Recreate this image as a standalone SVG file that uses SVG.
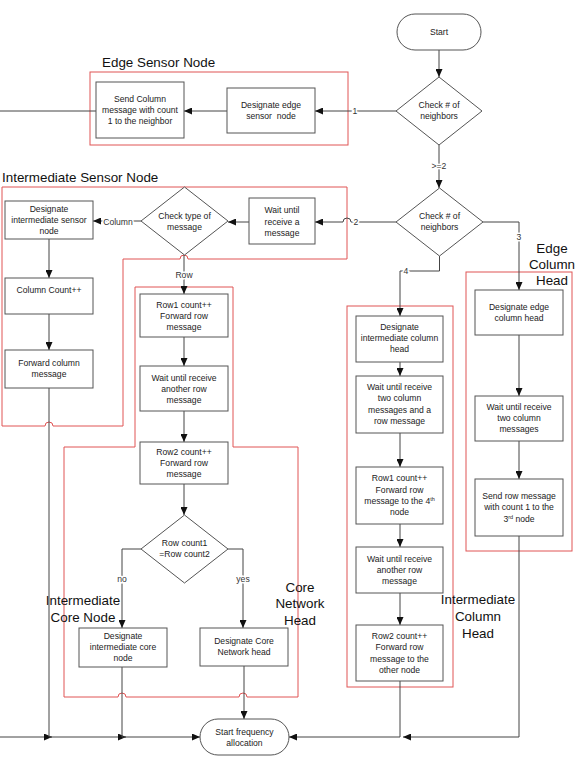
<svg xmlns="http://www.w3.org/2000/svg" width="578" height="763" viewBox="0 0 578 763">
<style>
.bx{fill:#fff;stroke:#555;stroke-width:1}
.rb{fill:none;stroke:#e05555;stroke-width:1}
.t{font-family:"Liberation Sans",Arial,sans-serif;font-size:8.6px;fill:#222;text-anchor:middle}
.lb{font-family:"Liberation Sans",Arial,sans-serif;font-size:8.6px;fill:#333;text-anchor:middle;stroke:#fff;stroke-width:3;paint-order:stroke}
.big{font-family:"Liberation Sans",Arial,sans-serif;font-size:13.4px;fill:#111}
.c{fill:none;stroke:#444;stroke-width:1}
</style>
<defs>
<marker id="ar" markerUnits="userSpaceOnUse" markerWidth="9" markerHeight="7" refX="8" refY="3.5" orient="auto">
<path d="M0,0 L8,3.5 L0,7 z" fill="#111"/>
</marker>
</defs>
<rect width="578" height="763" fill="#fff"/>

<g id="groups">
<rect class="rb" x="90" y="72" width="258" height="73"/>
<path class="rb" d="M2,187 H347 V259 H188 a4,4 0 0 0 -8,0 H123 V426 H53 a4,4 0 0 0 -8,0 H2 Z"/>
<path class="rb" d="M135,287 H233 V447 H298 V697 H247 a4,4 0 0 0 -8,0 H126 a4,4 0 0 0 -8,0 H64 V447 H135 Z"/>
<rect class="rb" x="347" y="306" width="106" height="381"/>
<rect class="rb" x="466" y="272" width="106" height="279"/>
<text class="big" x="102" y="67">Edge Sensor Node</text>
<text class="big" x="2" y="182">Intermediate Sensor Node</text>
<text class="big" text-anchor="middle"><tspan x="552" y="253">Edge</tspan><tspan x="552" y="269">Column</tspan><tspan x="552" y="285">Head</tspan></text>
<text class="big" text-anchor="middle"><tspan x="478" y="604">Intermediate</tspan><tspan x="478" y="621">Column</tspan><tspan x="478" y="638">Head</tspan></text>
<text class="big" text-anchor="middle"><tspan x="83" y="605">Intermediate</tspan><tspan x="83" y="622">Core Node</tspan></text>
<text class="big" text-anchor="middle"><tspan x="300" y="592">Core</tspan><tspan x="300" y="608">Network</tspan><tspan x="300" y="625">Head</tspan></text>
</g>

<g id="connectors">
<path class="c" d="M439,50 V77" marker-end="url(#ar)"/>
<path class="c" d="M396,111 H315" marker-end="url(#ar)"/>
<path class="c" d="M227,111 H184" marker-end="url(#ar)"/>
<path class="c" d="M96,111 H-3 V737 H52" marker-end="url(#ar)"/>
<path class="c" d="M439,145 V188" marker-end="url(#ar)"/>
<path class="c" d="M396,222 H351 a4,4 0 0 0 -8,0 H315" marker-end="url(#ar)"/>
<path class="c" d="M249,222 H228" marker-end="url(#ar)"/>
<path class="c" d="M141,221 H93" marker-end="url(#ar)"/>
<path class="c" d="M184,255 V294" marker-end="url(#ar)"/>
<path class="c" d="M49,239 V278" marker-end="url(#ar)"/>
<path class="c" d="M49,314 V350" marker-end="url(#ar)"/>
<path class="c" d="M49,388 V737 H126" marker-end="url(#ar)"/>
<path class="c" d="M184,337 V366" marker-end="url(#ar)"/>
<path class="c" d="M184,411 V442" marker-end="url(#ar)"/>
<path class="c" d="M184,484 V515" marker-end="url(#ar)"/>
<path class="c" d="M141,549 H122 V628" marker-end="url(#ar)"/>
<path class="c" d="M228,549 H243 V628" marker-end="url(#ar)"/>
<path class="c" d="M122,667 V737 H200" marker-end="url(#ar)"/>
<path class="c" d="M244,666 V719" marker-end="url(#ar)"/>
<path class="c" d="M483,222 H519 V290" marker-end="url(#ar)"/>
<path class="c" d="M439.5,256 V271 H400 V316" marker-end="url(#ar)"/>
<path class="c" d="M400,362 V376" marker-end="url(#ar)"/>
<path class="c" d="M400,433 V467" marker-end="url(#ar)"/>
<path class="c" d="M400,524 V547" marker-end="url(#ar)"/>
<path class="c" d="M400,593 V625" marker-end="url(#ar)"/>
<path class="c" d="M400,681 V737 H289" marker-end="url(#ar)"/>
<path class="c" d="M519,335 V396" marker-end="url(#ar)"/>
<path class="c" d="M519,441 V479" marker-end="url(#ar)"/>
<path class="c" d="M519,536 V737 H403" marker-end="url(#ar)"/>
<text class="lb" x="355" y="114">1</text>
<text class="lb" x="439" y="169">&gt;=2</text>
<text class="lb" x="356" y="225">2</text>
<text class="lb" x="118" y="225">Column</text>
<text class="lb" x="184" y="278">Row</text>
<text class="lb" x="519" y="240">3</text>
<text class="lb" x="406" y="274">4</text>
<text class="lb" x="122" y="582">no</text>
<text class="lb" x="243" y="582">yes</text>
</g>

<g id="start"><rect class="bx" x="397" y="14" width="84" height="36" rx="18"/><text class="t" x="439" y="35">Start</text></g>
<g id="check1"><path class="bx" d="M439,77 L482,111 L439,145 L396,111 Z"/><text class="t"><tspan x="439" y="108">Check # of</tspan><tspan x="439" y="119">neighbors</tspan></text></g>
<g id="designate-edge-sensor"><rect class="bx" x="227" y="88" width="88" height="45"/><text class="t" style="white-space:pre"><tspan x="271" y="108">Designate edge</tspan><tspan x="271" y="119">sensor  node</tspan></text></g>
<g id="send-column"><rect class="bx" x="96" y="82" width="88" height="56"/><text class="t"><tspan x="140" y="102">Send Column</tspan><tspan x="140" y="113">message with count</tspan><tspan x="140" y="124">1 to the neighbor</tspan></text></g>
<g id="check2"><path class="bx" d="M439.5,188 L483,222 L439.5,256 L396,222 Z"/><text class="t"><tspan x="439.5" y="219">Check # of</tspan><tspan x="439.5" y="230">neighbors</tspan></text></g>
<g id="wait-message"><rect class="bx" x="249" y="198" width="66" height="46"/><text class="t"><tspan x="282" y="213">Wait until</tspan><tspan x="282" y="224.5">receive a</tspan><tspan x="282" y="236">message</tspan></text></g>
<g id="check-type"><path class="bx" d="M184.5,187 L228,221 L184.5,255 L141,221 Z"/><text class="t"><tspan x="184.5" y="219">Check type of</tspan><tspan x="184.5" y="230">message</tspan></text></g>
<g id="designate-int-sensor"><rect class="bx" x="5" y="201" width="88" height="38"/><text class="t"><tspan x="49" y="212">Designate</tspan><tspan x="49" y="223">intermediate sensor</tspan><tspan x="49" y="234">node</tspan></text></g>
<g id="column-count"><rect class="bx" x="5" y="278" width="88" height="36"/><text class="t" x="49" y="293">Column Count++</text></g>
<g id="forward-column"><rect class="bx" x="5" y="350" width="88" height="38"/><text class="t"><tspan x="49" y="366">Forward column</tspan><tspan x="49" y="377">message</tspan></text></g>
<g id="row1"><rect class="bx" x="140" y="294" width="88" height="43"/><text class="t"><tspan x="184" y="308">Row1 count++</tspan><tspan x="184" y="319">Forward row</tspan><tspan x="184" y="330">message</tspan></text></g>
<g id="wait-row"><rect class="bx" x="140" y="366" width="88" height="45"/><text class="t"><tspan x="184" y="381">Wait until receive</tspan><tspan x="184" y="392">another row</tspan><tspan x="184" y="403">message</tspan></text></g>
<g id="row2"><rect class="bx" x="140" y="442" width="88" height="42"/><text class="t"><tspan x="184" y="455">Row2 count++</tspan><tspan x="184" y="466">Forward row</tspan><tspan x="184" y="477">message</tspan></text></g>
<g id="row-compare"><path class="bx" d="M184.5,515 L228,549 L184.5,583 L141,549 Z"/><text class="t"><tspan x="184.5" y="546">Row count1</tspan><tspan x="184.5" y="557">=Row count2</tspan></text></g>
<g id="designate-int-core"><rect class="bx" x="79" y="628" width="88" height="39"/><text class="t"><tspan x="123" y="639">Designate</tspan><tspan x="123" y="650">intermediate core</tspan><tspan x="123" y="661">node</tspan></text></g>
<g id="designate-core-head"><rect class="bx" x="200" y="628" width="88" height="38"/><text class="t"><tspan x="244" y="644">Designate Core</tspan><tspan x="244" y="655">Network head</tspan></text></g>
<g id="start-freq"><rect class="bx" x="200" y="719" width="89" height="36" rx="18"/><text class="t"><tspan x="244.5" y="735">Start frequency</tspan><tspan x="244.5" y="746">allocation</tspan></text></g>
<g id="designate-int-col"><rect class="bx" x="356" y="316" width="87" height="46"/><text class="t"><tspan x="399.5" y="330">Designate</tspan><tspan x="399.5" y="341">intermediate column</tspan><tspan x="399.5" y="352">head</tspan></text></g>
<g id="wait-two-col-row"><rect class="bx" x="356" y="376" width="87" height="57"/><text class="t"><tspan x="399.5" y="390">Wait until receive</tspan><tspan x="399.5" y="401">two column</tspan><tspan x="399.5" y="413">messages and a</tspan><tspan x="399.5" y="424">row message</tspan></text></g>
<g id="row1-4th"><rect class="bx" x="356" y="467" width="87" height="57"/><text class="t"><tspan x="399.5" y="481">Row1 count++</tspan><tspan x="399.5" y="493">Forward row</tspan><tspan x="399.5" y="504">message to the 4<tspan font-size="5.5" dy="-3">th</tspan></tspan><tspan x="399.5" y="515">node</tspan></text></g>
<g id="wait-another-row"><rect class="bx" x="356" y="547" width="87" height="46"/><text class="t"><tspan x="399.5" y="562">Wait until receive</tspan><tspan x="399.5" y="573">another row</tspan><tspan x="399.5" y="584">message</tspan></text></g>
<g id="row2-other"><rect class="bx" x="356" y="625" width="87" height="56"/><text class="t"><tspan x="399.5" y="639">Row2 count++</tspan><tspan x="399.5" y="650">Forward row</tspan><tspan x="399.5" y="662">message to the</tspan><tspan x="399.5" y="673">other node</tspan></text></g>
<g id="designate-edge-col"><rect class="bx" x="475" y="290" width="88" height="45"/><text class="t"><tspan x="519" y="310">Designate edge</tspan><tspan x="519" y="321">column head</tspan></text></g>
<g id="wait-two-col"><rect class="bx" x="475" y="396" width="88" height="45"/><text class="t"><tspan x="519" y="410">Wait until receive</tspan><tspan x="519" y="421">two column</tspan><tspan x="519" y="432">messages</tspan></text></g>
<g id="send-row-3rd"><rect class="bx" x="475" y="479" width="88" height="57"/><text class="t"><tspan x="519" y="499">Send row message</tspan><tspan x="519" y="510">with count 1 to the</tspan><tspan x="519" y="522">3<tspan font-size="5.5" dy="-3">rd</tspan><tspan dy="3"> node</tspan></tspan></text></g>
</svg>
